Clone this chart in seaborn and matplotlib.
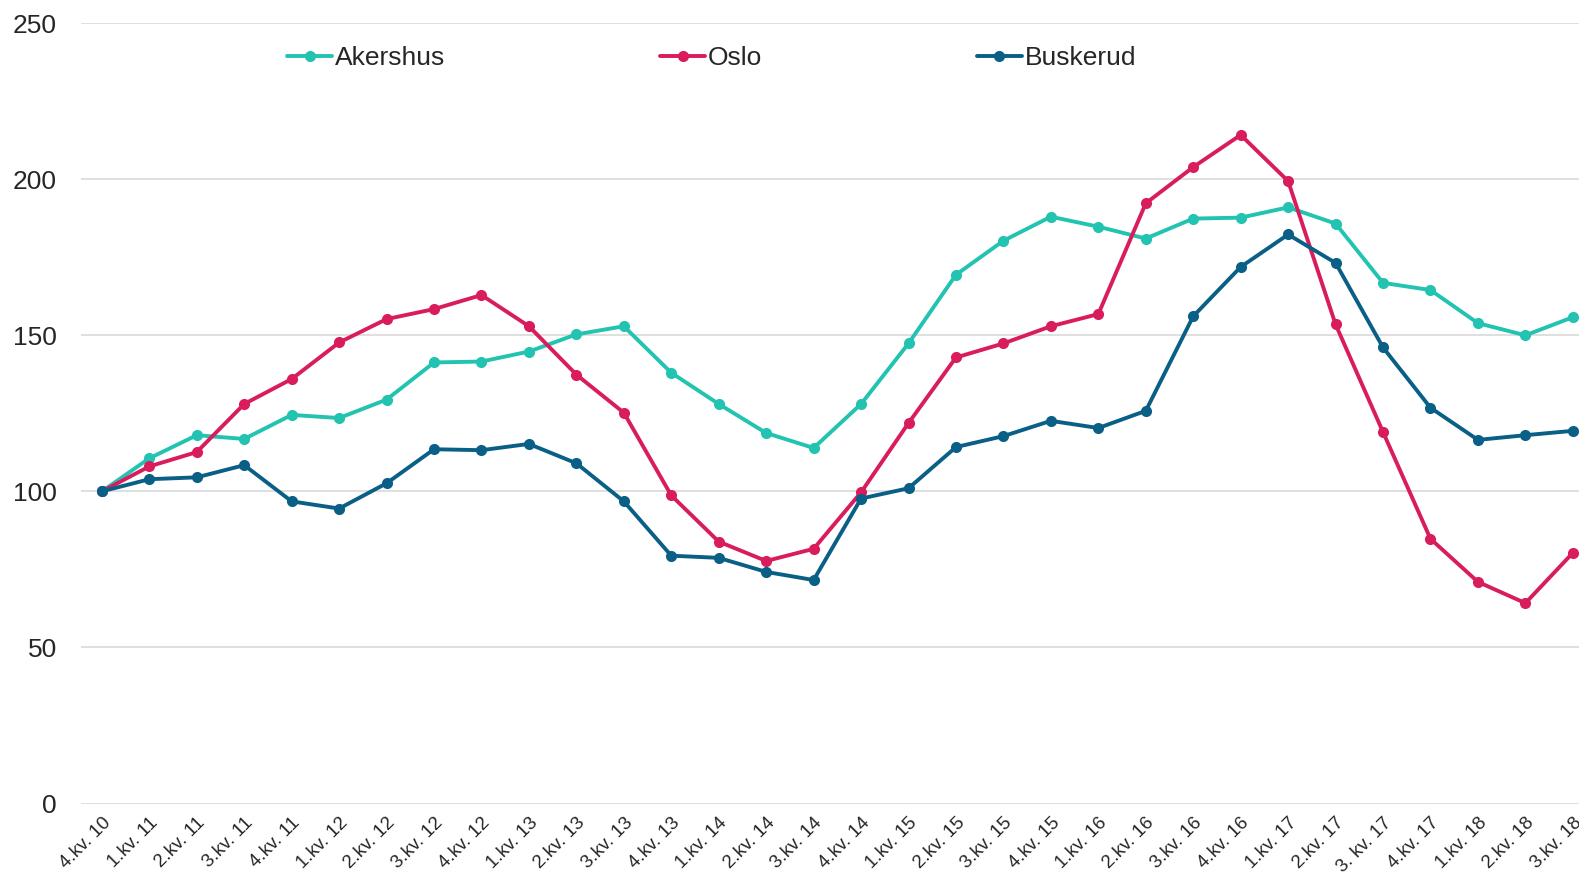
import numpy as np
import pandas as pd
import matplotlib
matplotlib.use('Agg')
import matplotlib.pyplot as plt
import seaborn as sns

sns.set_theme(style='white')
plt.rcParams['font.family'] = ['Liberation Sans', 'DejaVu Sans']

quarters = ['4.kv. 10',
            '1.kv. 11', '2.kv. 11', '3.kv. 11', '4.kv. 11',
            '1.kv. 12', '2.kv. 12', '3.kv. 12', '4.kv. 12',
            '1.kv. 13', '2.kv. 13', '3.kv. 13', '4.kv. 13',
            '1.kv. 14', '2.kv. 14', '3.kv. 14', '4.kv. 14',
            '1.kv. 15', '2.kv. 15', '3.kv. 15', '4.kv. 15',
            '1.kv. 16', '2.kv. 16', '3.kv. 16', '4.kv. 16',
            '1.kv. 17', '2.kv. 17', '3. kv. 17', '4.kv. 17',
            '1.kv. 18', '2.kv. 18', '3.kv. 18']

akershus = [100, 110.6, 118, 116.8, 124.5, 123.5, 129.4, 141.3, 141.6, 144.8,
            150.3, 152.9, 138, 128, 118.7, 113.9, 128, 147.4, 169.4, 180.3,
            188, 184.8, 181, 187.4, 187.7, 191, 185.8, 166.8, 164.5, 153.9,
            150, 155.8]
oslo = [100, 108, 112.6, 128, 136, 147.7, 155.2, 158.4, 162.9, 152.9,
        137.4, 125.2, 98.7, 83.9, 77.7, 81.6, 99.7, 121.9, 142.9, 147.4,
        152.9, 156.8, 192.3, 203.9, 214.2, 199.4, 153.5, 119, 84.8, 71,
        64.2, 80.3]
buskerud = [100, 103.9, 104.5, 108.4, 96.8, 94.5, 102.6, 113.5, 113.2, 115.2,
            109, 96.8, 79.4, 78.7, 74.2, 71.6, 97.7, 101, 114.2, 117.7,
            122.6, 120.3, 125.8, 156.1, 171.9, 182.3, 173.2, 146.1, 126.8, 116.5,
            118, 119.4]

series = {'Akershus': akershus, 'Oslo': oslo, 'Buskerud': buskerud}
colors = {'Akershus': '#22C3B0', 'Oslo': '#D91C5C', 'Buskerud': '#0A5F86'}

df = pd.DataFrame([(i, name, v) for name, vals in series.items() for i, v in enumerate(vals)],
                  columns=['idx', 'region', 'value'])

fig = plt.figure(figsize=(15.79, 8.75), dpi=100)
ax = fig.add_axes([0.051, 0.0817, 0.949, 0.8918])

sns.lineplot(data=df, x='idx', y='value', hue='region', hue_order=list(series),
             palette=colors, marker='o', markersize=8, markeredgewidth=0,
             linewidth=2.8, ax=ax)

ax.set_xlim(-0.45, 31.13)
ax.set_ylim(0, 250)
ax.set_yticks(np.arange(0, 251, 50))
ax.yaxis.grid(True, color='#d9d9d9', linewidth=1.2)
ax.xaxis.grid(False)
ax.set_xticks(range(len(quarters)))
ax.set_xticklabels(quarters, rotation=45, ha='right', rotation_mode='anchor', fontsize=13.5)
ax.tick_params(axis='y', labelsize=19, length=0, pad=17)
ax.tick_params(axis='x', length=0, pad=8)
ax.set_xlabel('')
ax.set_ylabel('')
sns.despine(ax=ax, top=True, right=True, left=True, bottom=True)

ax.legend(loc='upper left', bbox_to_anchor=(0.131, 0.984), ncol=3, frameon=False,
          fontsize=19, handlelength=1.7, handletextpad=0.1, columnspacing=8.15,
          borderaxespad=0)

fig.savefig('out.png', dpi=100)
